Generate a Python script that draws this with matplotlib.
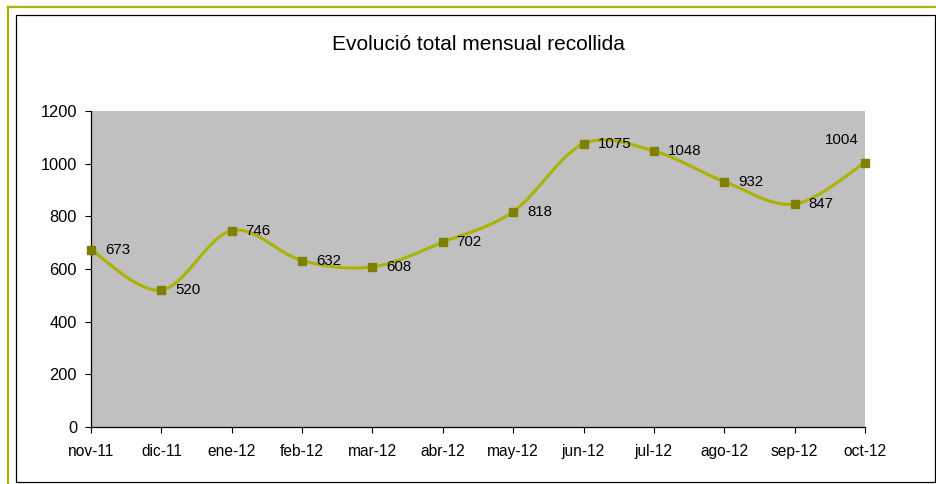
import matplotlib.pyplot as plt
import numpy as np
from matplotlib.lines import Line2D
from matplotlib.patches import Rectangle

plt.rcParams["font.family"] = ["Liberation Sans", "DejaVu Sans"]

# Data
months = ["nov-11", "dic-11", "ene-12", "feb-12", "mar-12", "abr-12",
          "may-12", "jun-12", "jul-12", "ago-12", "sep-12", "oct-12"]
totals = [673, 520, 746, 632, 608, 702, 818, 1075, 1048, 932, 847, 1004]
yticks = [0, 200, 400, 600, 800, 1000, 1200]


def smooth_curve(x, y, steps=30):
    # Catmull-Rom style bezier, similar to Excel's smoothed line
    x = np.asarray(x, float)
    y = np.asarray(y, float)
    n = len(x)
    xs, ys = [], []
    for i in range(n - 1):
        p0 = max(i - 1, 0)
        p3 = min(i + 2, n - 1)
        c1x = x[i] + (x[i + 1] - x[p0]) / 6
        c1y = y[i] + (y[i + 1] - y[p0]) / 6
        c2x = x[i + 1] - (x[p3] - x[i]) / 6
        c2y = y[i + 1] - (y[p3] - y[i]) / 6
        t = np.linspace(0, 1, steps)
        a = (1 - t) ** 3
        b = 3 * (1 - t) ** 2 * t
        c = 3 * (1 - t) * t ** 2
        d = t ** 3
        xs.extend(a * x[i] + b * c1x + c * c2x + d * x[i + 1])
        ys.extend(a * y[i] + b * c1y + c * c2y + d * y[i + 1])
    return np.array(xs), np.array(ys)


W, H = 937, 484
fig = plt.figure(figsize=(W / 100, H / 100), dpi=100)
fig.patch.set_facecolor("white")

# frames around the chart
fig.add_artist(Line2D([8.5 / W, 8.5 / W], [0, 1 - 7 / H], color="#A8B400", lw=1.6))
fig.add_artist(Line2D([8.5 / W, 1], [1 - 7 / H, 1 - 7 / H], color="#A8B400", lw=1.6))
fig.add_artist(Rectangle((16 / W, 1 - 482 / H), (935 - 16) / W, (482 - 15) / H,
                         fill=False, edgecolor="black", lw=0.9, transform=fig.transFigure))

ax = fig.add_axes([91 / W, 1 - 427 / H, (865 - 91) / W, (427 - 111) / H])
ax.set_facecolor("#C0C0C0")

x = np.arange(len(months))
sx, sy = smooth_curve(x, totals)
ax.plot(sx, sy, color="#A9B300", lw=2.2, solid_capstyle="round", zorder=2, clip_on=False)
ax.plot(x, totals, linestyle="none", marker="s", markersize=5.5,
        color="#808000", zorder=3, clip_on=False)

for i, v in enumerate(totals):
    if i == len(totals) - 1:
        ax.annotate(str(v), (i, v), xytext=(-17, 16), textcoords="offset points",
                    ha="center", va="center", fontsize=10.8)
    else:
        ax.annotate(str(v), (i, v), xytext=(10, 0), textcoords="offset points",
                    ha="left", va="center", fontsize=10.8)

ax.set_xlim(0, len(months) - 1)
ax.set_ylim(0, 1200)
ax.set_xticks(x)
ax.set_xticklabels(months, fontsize=11.2)
ax.set_yticks(yticks)
ax.set_yticklabels([str(t) for t in yticks], fontsize=11.8)
ax.tick_params(axis="both", direction="out", length=4, width=0.8, color="black")
ax.tick_params(axis="x", pad=8)
ax.tick_params(axis="y", pad=6)
for side in ["top", "right"]:
    ax.spines[side].set_visible(False)
for side in ["left", "bottom"]:
    ax.spines[side].set_linewidth(0.9)

fig.text(478 / W, 1 - 44 / H, "Evolució total mensual recollida",
         ha="center", va="center", fontsize=15)

fig.savefig("out.png", dpi=100)
